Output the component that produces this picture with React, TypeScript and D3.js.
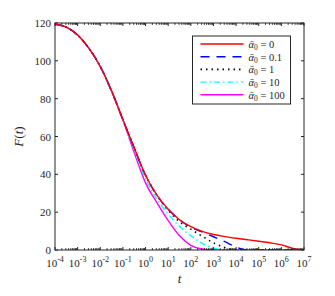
import * as d3 from 'd3'

// F(t) for several alpha_0 values.
const logT = [-4, -3.5, -3, -2.5, -2, -1.5, -1, -0.5, 0, 0.5, 1, 1.5, 2, 2.5, 3, 3.5, 4, 4.5, 5, 5.5, 6, 6.3, 6.6, 7]
const common = [119.3, 117.8, 113.6, 106.6, 97, 84, 68.8]
const fRed = [...common, 54, 39.5, 29, 21.5, 16, 12.3, 9.8, 8.2, 7.1, 6.2, 5.4, 4.6, 3.8, 2.7, 1.6, 0.5, 0]
const fBlue = [...common, 54, 39.5, 29, 21.5, 16, 12, 9.6, 7, 4.4, 1.6, 0, 0, 0, 0, 0, 0, 0]
const fBlack = [...common, 54, 39.5, 29, 21, 15, 11, 7.3, 3.8, 1.3, 0.2, 0, 0, 0, 0, 0, 0, 0]
const fCyan = [...common, 53, 37.5, 27, 19, 12.5, 7.5, 3.5, 1, 0.1, 0, 0, 0, 0, 0, 0, 0, 0]
const fMagenta = [...common, 51.5, 35.5, 25, 15.5, 7.5, 2.5, 0.5, 0, 0, 0, 0, 0, 0, 0, 0, 0, 0]

const seriesNames = ['0', '0.1', '1', '10', '100']
const seriesValues = [fRed, fBlue, fBlack, fCyan, fMagenta]
const colors = ['#ff0000', '#0000ff', '#000000', '#00ffff', '#ff00ff']
const dashes = ['', '9,7', '1.5,4', '6,3,1.5,3', '']

const yTicks = [0, 20, 40, 60, 80, 100, 120]
const xExps = [-4, -3, -2, -1, 0, 1, 2, 3, 4, 5, 6, 7]

export default function App() {
  const width = 335
  const height = 296
  const m = { left: 55, right: 31, top: 23, bottom: 46 }
  const iw = width - m.left - m.right
  const ih = height - m.top - m.bottom
  const x = d3.scaleLog().domain([1e-4, 1e7]).range([0, iw])
  const y = d3.scaleLinear().domain([0, 120]).range([ih, 0])
  const font = '"Liberation Serif", "DejaVu Serif", serif'
  const ink = '#262626'

  const minor: number[] = []
  for (let e = -4; e < 7; e++) for (let k = 2; k <= 9; k++) minor.push(k * Math.pow(10, e))

  const mk = d3
    .line<number>()
    .x((_, i) => x(Math.pow(10, logT[i])))
    .y((d) => y(d))
    .curve(d3.curveMonotoneX)

  return (
    <svg width={width} height={height} style={{ position: 'absolute', left: 0, top: 0 }} fontFamily={font}>
      <rect width={width} height={height} fill="#fff" />
      <g transform={`translate(${m.left},${m.top})`}>
        <clipPath id="clip">
          <rect x={0} y={0} width={iw} height={ih} />
        </clipPath>
        <g clipPath="url(#clip)">
          {seriesValues
            .map((vals, i) => (
              <path
                key={i}
                d={mk(vals) ?? ''}
                fill="none"
                stroke={colors[i]}
                strokeWidth={i === 2 ? 1.6 : 1.4}
                strokeDasharray={dashes[i]}
              />
            ))
            .reverse()}
        </g>
        {/* box and ticks */}
        <rect x={0} y={0} width={iw} height={ih} fill="none" stroke={ink} strokeWidth={1} />
        {xExps.map((e) => (
          <g key={e}>
            <line x1={x(Math.pow(10, e))} x2={x(Math.pow(10, e))} y1={ih} y2={ih - 3} stroke={ink} />
            <line x1={x(Math.pow(10, e))} x2={x(Math.pow(10, e))} y1={0} y2={3} stroke={ink} />
            <text x={x(Math.pow(10, e))} y={ih + 17} textAnchor="middle" fontSize={11} fill={ink}>
              10
              <tspan dy={-5} fontSize={8}>
                {e}
              </tspan>
            </text>
          </g>
        ))}
        {minor.map((v, i) => (
          <g key={i}>
            <line x1={x(v)} x2={x(v)} y1={ih} y2={ih - 1.8} stroke={ink} />
            <line x1={x(v)} x2={x(v)} y1={0} y2={1.8} stroke={ink} />
          </g>
        ))}
        {yTicks.map((v) => (
          <g key={v}>
            <line x1={0} x2={3} y1={y(v)} y2={y(v)} stroke={ink} />
            <line x1={iw} x2={iw - 3} y1={y(v)} y2={y(v)} stroke={ink} />
            <text x={-4} y={y(v) + 4} textAnchor="end" fontSize={11} fill={ink}>
              {v}
            </text>
          </g>
        ))}
        <text x={iw / 2} y={ih + 33} textAnchor="middle" fontSize={13} fontStyle="italic" fill={ink}>
          t
        </text>
        <text transform={`translate(${-32},${ih / 2}) rotate(-90)`} textAnchor="middle" fontSize={13} fill={ink}>
          <tspan fontStyle="italic">F</tspan>(<tspan fontStyle="italic">t</tspan>)
        </text>
        {/* legend */}
        <g transform={`translate(${192.5 - m.left},${36 - m.top})`}>
          <rect x={0} y={0} width={98} height={68} fill="#fff" stroke={ink} strokeWidth={1} />
          {seriesNames.map((n, i) => (
            <g key={n} transform={`translate(0,${8 + i * 12.7})`}>
              <line
                x1={8}
                x2={51}
                y1={0}
                y2={0}
                stroke={colors[i]}
                strokeWidth={i === 2 ? 1.6 : 1.4}
                strokeDasharray={dashes[i]}
              />
              <text x={56} y={4} fontSize={10.5} fill={ink}>
                <tspan fontStyle="italic">{'\u03b1\u0304'}</tspan>
                <tspan fontSize={7.5} dy={2}>0</tspan>
                <tspan dy={-2}>{' = ' + n}</tspan>
              </text>
            </g>
          ))}
        </g>
      </g>
    </svg>
  )
}
